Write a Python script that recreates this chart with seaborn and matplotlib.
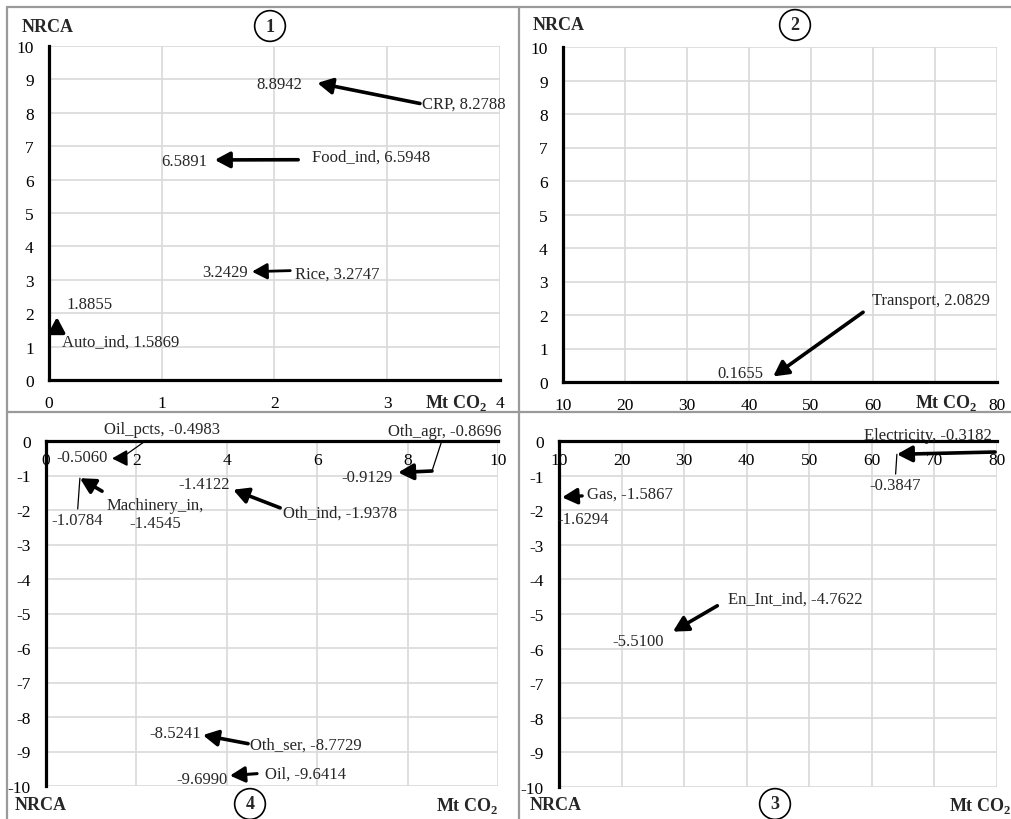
import matplotlib
matplotlib.use("Agg")
import matplotlib.pyplot as plt
import seaborn as sns
from matplotlib.lines import Line2D

# --- DATA ---
# quadrant 1: positive NRCA, small emitters
q1_sector = ["CRP", "Food_ind", "Rice", "Auto_ind"]
q1_co2_from = [3.29, 2.21, 2.14, 0.07]
q1_co2_to = [2.38, 1.47, 1.80, 0.07]
q1_nrca_from = [8.2788, 6.5948, 3.2747, 1.5869]
q1_nrca_to = [8.8942, 6.5891, 3.2429, 1.8855]

# quadrant 2: positive NRCA, large emitters
q2_sector = ["Transport"]
q2_co2_from = [58.4]
q2_co2_to = [43.9]
q2_nrca_from = [2.0829]
q2_nrca_to = [0.1655]

# quadrant 3: negative NRCA, large emitters
q3_sector = ["Electricity", "Gas", "En_Int_ind"]
q3_co2_from = [79.7, 13.7, 35.3]
q3_co2_to = [64.0, 10.5, 28.2]
q3_nrca_from = [-0.3182, -1.5867, -4.7622]
q3_nrca_to = [-0.3847, -1.6294, -5.5100]

# quadrant 4: negative NRCA, small emitters
q4_sector = ["Oil_pcts", "Machinery_in", "Oth_ind", "Oth_agr", "Oth_ser", "Oil"]
q4_co2_from = [1.66, 1.24, 5.18, 8.54, 4.47, 4.67]
q4_co2_to = [1.46, 0.75, 4.14, 7.79, 3.47, 4.07]
q4_nrca_from = [-0.4983, -1.4545, -1.9378, -0.8696, -8.7729, -9.6414]
q4_nrca_to = [-0.5060, -1.0784, -1.4122, -0.9129, -8.5241, -9.6990]

q1_xticks = [0, 1, 2, 3, 4]
q2_xticks = [10, 20, 30, 40, 50, 60, 70, 80]
q3_xticks = [10, 20, 30, 40, 50, 60, 70, 80]
q4_xticks = [0, 2, 4, 6, 8, 10]
pos_yticks = list(range(0, 11))
neg_yticks = list(range(-10, 1))

# --- STYLE / LAYOUT ---
W, H = 1012, 820
FONT = "Liberation Serif"

# label placement: (dx, dy) in pixels, alignment, leader line
# start label, end label
LABELS = {
    "CRP": ((2, 0, "left", False), (-15, -1, "right", False)),
    "Food_ind": ((14, 3, "left", False), (-7, -1, "right", False)),
    "Rice": ((5, -3, "left", False), (-4, 0, "right", False)),
    "Auto_ind": ((5, -15, "left", False), (10, 13, "left", False)),
    "Transport": ((9, 12, "left", False), (-10, 3, "right", False)),
    "Electricity": ((-67, 17, "center", False), (-2, -31, "center", True)),
    "Gas": ((5, 2, "left", False), (-5, -22, "left", False)),
    "En_Int_ind": ((11, 7, "left", False), (-9, -9, "right", False)),
    "Oil_pcts": ((41, 29, "center", True), (-4, 1, "right", False)),
    "Machinery_in": ((53, -23, "center", False), (-3, -42, "center", True)),
    "Oth_ind": ((3, -5, "left", False), (-3, 6, "right", False)),
    "Oth_agr": ((13, 40, "center", True), (-5, -5, "right", False)),
    "Oth_ser": ((2, -1, "left", False), (-2, 2, "right", False)),
    "Oil": ((8, 0, "left", False), (-2, -3, "right", False)),
}
WRAP = {"Machinery_in"}
ARROW_LW = {"Rice": 2.0, "Oil_pcts": 1.4, "Gas": 2.4, "Oil": 2.2}


def box(left, top, right, bottom):
    return [left / W, 1 - bottom / H, (right - left) / W, (bottom - top) / H]


def draw_panel(ax, sectors, x0, y0, x1, y1, xlim, ylim, xticks, yticks,
               negative=False, hide=()):
    ax.set_xlim(*xlim)
    ax.set_ylim(*ylim)
    ax.set_xticks(xticks)
    ax.set_xticklabels(["" if t in hide else str(t) for t in xticks])
    ax.set_yticks(yticks)
    ax.grid(True, color="#d9d9d9", lw=1.2)
    for s in ["top", "right"]:
        ax.spines[s].set_visible(False)
    for s in ["left", "bottom"]:
        ax.spines[s].set_color("black")
        ax.spines[s].set_linewidth(2.3)
    ax.spines["bottom"].set_position(("data", 0))
    ax.spines["bottom"].set_zorder(5)
    ax.spines["left"].set_zorder(5)
    ax.set_facecolor("white")
    ax.tick_params(axis="y", length=0, pad=11, labelsize=12.5)
    ax.tick_params(axis="x", length=0, pad=11 if not negative else 8,
                   labelsize=12.5)

    for name, xs, ys, xe, ye in zip(sectors, x0, y0, x1, y1):
        lw = ARROW_LW.get(name, 2.6)
        ax.annotate("", xy=(xe, ye), xytext=(xs, ys),
                    arrowprops=dict(arrowstyle="-|>,head_length=0.6,head_width=0.32",
                                    lw=lw, color="black", shrinkA=0, shrinkB=0,
                                    mutation_scale=15),
                    zorder=6)
        (sdx, sdy, sha, slead), (edx, edy, eha, elead) = LABELS[name]
        start_txt = f"{name}, {ys:.4f}"
        if name in WRAP:
            start_txt = start_txt.replace(", ", ",\n")
        for txt, px, py, dx, dy, ha, lead in [
            (start_txt, xs, ys, sdx, sdy, sha, slead),
            (f"{ye:.4f}", xe, ye, edx, edy, eha, elead),
        ]:
            props = dict(arrowstyle="-", lw=0.9, color="black",
                         shrinkA=0, shrinkB=0) if lead else None
            ax.annotate(txt, xy=(px, py), xytext=(dx, dy),
                        textcoords="offset pixels", ha=ha, va="center",
                        fontsize=12, multialignment="center",
                        arrowprops=props, zorder=7)


sns.set_theme(style="whitegrid")
plt.rcParams["font.family"] = [FONT, "DejaVu Serif"]
plt.rcParams["axes.unicode_minus"] = False
plt.rcParams["mathtext.fontset"] = "custom"
plt.rcParams["mathtext.rm"] = FONT
plt.rcParams["mathtext.bf"] = FONT + ":bold"
plt.rcParams["xtick.color"] = "black"
plt.rcParams["ytick.color"] = "black"

fig = plt.figure(figsize=(W / 100, H / 100), dpi=100)
fig.patch.set_facecolor("white")

ax1 = fig.add_axes(box(49, 47, 500, 381))
draw_panel(ax1, q1_sector, q1_co2_from, q1_nrca_from, q1_co2_to, q1_nrca_to,
           (0, 4), (0, 10), q1_xticks, pos_yticks)

ax2 = fig.add_axes(box(563, 48, 997, 383))
draw_panel(ax2, q2_sector, q2_co2_from, q2_nrca_from, q2_co2_to, q2_nrca_to,
           (10, 80), (0, 10), q2_xticks, pos_yticks, hide=(70,))

ax4 = fig.add_axes(box(46, 442, 498, 787))
draw_panel(ax4, q4_sector, q4_co2_from, q4_nrca_from, q4_co2_to, q4_nrca_to,
           (0, 10), (-10, 0), q4_xticks, neg_yticks, negative=True)

ax3 = fig.add_axes(box(559, 442, 997, 788))
draw_panel(ax3, q3_sector, q3_co2_from, q3_nrca_from, q3_co2_to, q3_nrca_to,
           (10, 80), (-10, 0), q3_xticks, neg_yticks, negative=True)

# axis titles and panel numbers (pixel positions)
mt = r"Mt CO$_\mathbf{2}$"
for x, y in [(22, 28), (533, 26), (15, 806), (530, 806)]:
    fig.text(x / W, 1 - y / H, "NRCA", fontsize=13, fontweight="bold",
             ha="left", va="center")
for x, y in [(456, 403), (946, 403), (467, 806), (980, 806)]:
    fig.text(x / W, 1 - y / H, mt, fontsize=13, fontweight="bold",
             ha="center", va="center")
for num, x, y in [("1", 270, 27), ("2", 795, 26), ("4", 250, 805), ("3", 775, 805)]:
    fig.text(x / W, 1 - y / H, num, fontsize=13, fontweight="bold",
             ha="center", va="center",
             bbox=dict(boxstyle="circle,pad=0.38", fc="white", ec="black", lw=1.2))

# panel frames
border = dict(color="#9a9a9a", lw=1.6)
for xs, ys in [([7, 7], [8, 820]), ([7, 1012], [8, 8]),
               ([519, 519], [8, 820]), ([7, 1012], [413, 413])]:
    fig.add_artist(Line2D([x / W for x in xs], [1 - y / H for y in ys],
                          transform=fig.transFigure, **border))

fig.savefig("out.png", dpi=100, facecolor="white")
